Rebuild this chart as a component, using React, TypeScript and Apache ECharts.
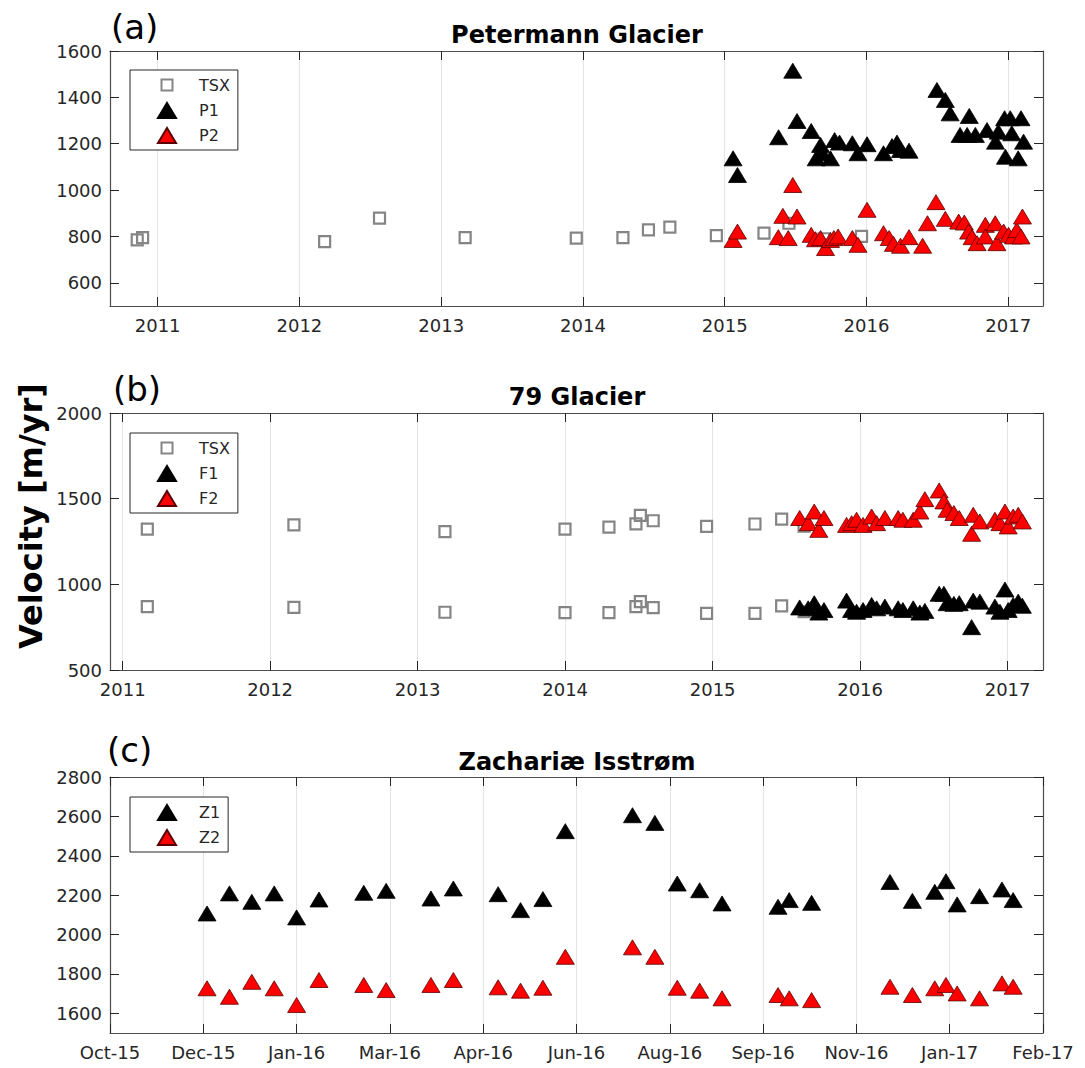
import React, { useEffect, useRef } from 'react';
import * as echarts from 'echarts';

// ---------- Panel (a) Petermann Glacier (x: decimal year) ----------
const petTsxYear = [2010.856, 2010.894, 2012.178, 2012.565, 2013.169, 2013.953, 2014.282, 2014.462, 2014.613, 2014.941, 2015.277, 2015.453, 2015.7, 2015.965];
const petTsxVel = [785, 795, 778, 879, 795, 793, 795, 828, 840, 804, 814, 857, 790, 800];

const petP1Year = [2015.059, 2015.09, 2015.38, 2015.48, 2015.51, 2015.61, 2015.645, 2015.676, 2015.69, 2015.746, 2015.775, 2015.81, 2015.9, 2015.94, 2016.004, 2016.12, 2016.18, 2016.215, 2016.24, 2016.3, 2016.497, 2016.556, 2016.59, 2016.66, 2016.71, 2016.725, 2016.768, 2016.85, 2016.91, 2016.93, 2016.974, 2016.98, 2017.014, 2017.025, 2017.07, 2017.09, 2017.108];
const petP1Vel = [1137, 1065, 1228, 1515, 1298, 1255, 1137, 1195, 1159, 1137, 1216, 1205, 1202, 1159, 1198, 1159, 1190, 1205, 1173, 1170, 1432, 1389, 1331, 1238, 1238, 1320, 1238, 1259, 1209, 1252, 1310, 1144, 1310, 1245, 1137, 1310, 1209];

const petP2Year = [2015.059, 2015.09, 2015.378, 2015.41, 2015.448, 2015.48, 2015.51, 2015.61, 2015.64, 2015.676, 2015.711, 2015.746, 2015.77, 2015.8, 2015.9, 2015.94, 2016.004, 2016.12, 2016.16, 2016.19, 2016.24, 2016.3, 2016.396, 2016.43, 2016.49, 2016.556, 2016.65, 2016.69, 2016.72, 2016.745, 2016.78, 2016.838, 2016.838, 2016.908, 2016.92, 2016.967, 2017.002, 2017.037, 2017.06, 2017.09, 2017.1];
const petP2Vel = [785, 821, 797, 889, 793, 1022, 886, 807, 788, 793, 750, 785, 793, 800, 793, 764, 915, 814, 793, 768, 760, 797, 760, 857, 948, 876, 864, 860, 821, 797, 771, 850, 800, 857, 771, 821, 807, 800, 828, 800, 886];

// ---------- Panel (b) 79 Glacier (x: decimal year) ----------
const g79TsxYear = [2011.167, 2011.167, 2012.161, 2012.161, 2013.185, 2013.185, 2013.999, 2013.999, 2014.297, 2014.297, 2014.48, 2014.48, 2014.51, 2014.51, 2014.597, 2014.597, 2014.959, 2014.959, 2015.287, 2015.287, 2015.468, 2015.468, 2015.62, 2015.62];
const g79TsxVel = [1322, 870, 1347, 866, 1308, 837, 1322, 835, 1334, 835, 1353, 870, 1402, 899, 1371, 864, 1338, 831, 1352, 831, 1381, 874, 1340, 840];

const g79Year = [2015.59, 2015.648, 2015.689, 2015.72, 2015.755, 2015.908, 2015.942, 2015.976, 2016.02, 2016.078, 2016.112, 2016.168, 2016.258, 2016.29, 2016.36, 2016.405, 2016.439, 2016.536, 2016.568, 2016.59, 2016.636, 2016.672, 2016.756, 2016.767, 2016.812, 2016.914, 2016.948, 2016.982, 2017.004, 2017.038, 2017.072, 2017.1];
const g79F1Vel = [865, 860, 890, 835, 850, 905, 850, 840, 850, 880, 860, 870, 860, 850, 860, 835, 845, 945, 945, 890, 886, 890, 750, 905, 899, 870, 840, 970, 850, 880, 899, 875];
const g79F2Vel = [1387, 1357, 1425, 1318, 1387, 1347, 1357, 1377, 1347, 1396, 1357, 1387, 1387, 1377, 1377, 1425, 1497, 1548, 1484, 1435, 1416, 1387, 1295, 1406, 1367, 1377, 1357, 1425, 1338, 1396, 1406, 1367];

// ---------- Panel (c) Zachariæ Isstrøm (x: date) ----------
const zDates = ['2015-12-04', '2015-12-16', '2015-12-28', '2016-01-09', '2016-01-21', '2016-02-02', '2016-02-26', '2016-03-09', '2016-04-02', '2016-04-14', '2016-05-08', '2016-05-20', '2016-06-01', '2016-06-13', '2016-07-19', '2016-07-31', '2016-08-12', '2016-08-24', '2016-09-05', '2016-10-05', '2016-10-11', '2016-10-23', '2016-12-04', '2016-12-16', '2016-12-28', '2017-01-03', '2017-01-09', '2017-01-21', '2017-02-02', '2017-02-08'];
const zZ1Vel = [2107, 2209, 2166, 2209, 2087, 2178, 2212, 2222, 2183, 2234, 2205, 2124, 2180, 2525, 2606, 2567, 2259, 2225, 2158, 2141, 2175, 2161, 2267, 2171, 2217, 2271, 2153, 2195, 2229, 2175];
const zZ2Vel = [1727, 1684, 1760, 1727, 1642, 1769, 1744, 1718, 1744, 1769, 1732, 1715, 1730, 1887, 1935, 1887, 1730, 1715, 1676, 1693, 1676, 1667, 1735, 1693, 1727, 1744, 1701, 1676, 1752, 1735];

// Tick labels
const yearTicks = [2011, 2012, 2013, 2014, 2015, 2016, 2017];
const petYTicks = [600, 800, 1000, 1200, 1400, 1600];
const zYTicks = [1600, 1800, 2000, 2200, 2400, 2600, 2800];
const zXStart = '2015-10-13';
const zXEnd = '2017-02-24';
const MONTHS = ['Jan', 'Feb', 'Mar', 'Apr', 'May', 'Jun', 'Jul', 'Aug', 'Sep', 'Oct', 'Nov', 'Dec'];

const DAY0 = 719529; // day number of 1970-01-01
function dn(s: string): number {
  const [y, m, d] = s.split('-').map(Number);
  return Date.UTC(y, m - 1, d) / 86400000 + DAY0;
}
function fmtMon(v: number): string {
  const dt = new Date(Math.round(v - DAY0) * 86400000);
  return MONTHS[dt.getUTCMonth()] + '-' + String(dt.getUTCFullYear() % 100).padStart(2, '0');
}
const zip = (a: number[], b: number[]) => a.map((x, i) => [x, b[i]]);

const FONT = 'DejaVu Sans';
const AX = '#262626';
const FRAME = '#4d4d4d';
const GRIDC = '#e4e4e4';

const TRI = [18, 15];
const TRI_ICON = 'path://M9,0 L18,15 L0,15 Z';
const SQ_ICON = 'path://M0,0 M18,15 M3.5,1.5 L14.5,1.5 L14.5,12.5 L3.5,12.5 Z';
const blackStyle = { color: '#000000', borderColor: '#000000', borderWidth: 0.8, opacity: 1 };
const redStyle = { color: '#ff0000', borderColor: '#5a0000', borderWidth: 0.8, opacity: 1 };
const tsxStyle = { color: 'rgba(0,0,0,0)', borderColor: '#858585', borderWidth: 2.2, opacity: 1 };

const num = (v: number) => String(Math.round(v));

function xBottom(gi: number, min: number, max: number, label: any, tick: any, interval?: number) {
  return {
    type: 'value', gridIndex: gi, position: 'bottom', min, max, interval,
    axisLine: { show: true, onZero: false, lineStyle: { color: FRAME, width: 1.2 } },
    axisTick: { show: true, inside: true, length: 9, lineStyle: { color: AX, width: 1 }, ...tick },
    axisLabel: { show: true, color: AX, fontSize: 18, fontFamily: FONT, margin: 10, ...label },
    splitLine: { show: true, lineStyle: { color: GRIDC, width: 1 } },
  };
}
function xTop(gi: number, min: number, max: number, tick: any, interval?: number) {
  return {
    type: 'value', gridIndex: gi, position: 'top', min, max, interval,
    axisLine: { show: true, onZero: false, lineStyle: { color: FRAME, width: 1.2 } },
    axisTick: { show: true, inside: true, length: 9, lineStyle: { color: AX, width: 1 }, ...tick },
    axisLabel: { show: false },
    splitLine: { show: false },
  };
}
function yAx(gi: number, pos: string, min: number, max: number, tick: any, label: any, interval?: number) {
  return {
    type: 'value', gridIndex: gi, position: pos, min, max, interval,
    axisLine: { show: true, onZero: false, lineStyle: { color: FRAME, width: 1.2 } },
    axisTick: { show: true, inside: true, length: 9, lineStyle: { color: AX, width: 1 }, ...tick },
    axisLabel: pos === 'left'
      ? { show: true, color: AX, fontSize: 18, fontFamily: FONT, margin: 8, formatter: num, ...label }
      : { show: false },
    splitLine: { show: false },
  };
}

function legend(top: number, items: { name: string; icon: string }[]) {
  return {
    orient: 'vertical', left: 130, top, data: items,
    itemWidth: 18, itemHeight: 15, itemGap: 8,
    symbolKeepAspect: true,
    padding: [7, 8, 6, 27],
    borderColor: AX, borderWidth: 1, backgroundColor: '#ffffff',
    textStyle: { fontFamily: FONT, fontSize: 16, color: AX, padding: [0, 0, 0, 18] },
    selectedMode: false,
  };
}

function scatter(name: string, data: number[][], xi: number, yi: number, symbol: string, size: any, style: any, z: number) {
  return { type: 'scatter', name, data, xAxisIndex: xi, yAxisIndex: yi, symbol, symbolSize: size, itemStyle: style, z, silent: true };
}

function label(text: string, x: number, y: number, size: number, weight: string, align: string, rotation = 0) {
  return {
    type: 'text', x, y, rotation,
    style: { text, fontSize: size, fontWeight: weight, fontFamily: FONT, fill: '#000000', textAlign: align, textVerticalAlign: 'middle' },
  };
}

export default function App() {
  const ref = useRef<HTMLDivElement>(null);
  useEffect(() => {
    if (!ref.current) return;
    const chart = echarts.init(ref.current, null, { renderer: 'svg' });
    const yearLabel = { customValues: yearTicks, formatter: num };
    const yearTick = { customValues: yearTicks };
    const zMin = dn(zXStart);
    const zMax = dn(zXEnd);
    const option: any = {
      animation: false,
      backgroundColor: '#ffffff',
      textStyle: { fontFamily: FONT },
      grid: [
        { left: 110, top: 51, width: 933, height: 255 },
        { left: 110, top: 413, width: 933, height: 257 },
        { left: 110, top: 777, width: 933, height: 256 },
      ],
      xAxis: [
        xBottom(0, 2010.664, 2017.245, yearLabel, yearTick),
        xTop(0, 2010.664, 2017.245, yearTick),
        xBottom(1, 2010.914, 2017.24, yearLabel, yearTick),
        xTop(1, 2010.914, 2017.24, yearTick),
        xBottom(2, zMin, zMax, { formatter: (v: number) => fmtMon(v) }, {}, 50),
        xTop(2, zMin, zMax, {}, 50),
      ],
      yAxis: [
        yAx(0, 'left', 500, 1600, { customValues: petYTicks }, { customValues: petYTicks }),
        yAx(0, 'right', 500, 1600, { customValues: petYTicks }, {}),
        yAx(1, 'left', 500, 2000, {}, {}, 500),
        yAx(1, 'right', 500, 2000, {}, {}, 500),
        yAx(2, 'left', 1500, 2800, { customValues: zYTicks }, { customValues: zYTicks }),
        yAx(2, 'right', 1500, 2800, { customValues: zYTicks }, {}),
      ],
      legend: [
        legend(70, [{ name: 'TSX', icon: SQ_ICON }, { name: 'P1', icon: TRI_ICON }, { name: 'P2', icon: TRI_ICON }]),
        legend(433, [{ name: 'TSX', icon: SQ_ICON }, { name: 'F1', icon: TRI_ICON }, { name: 'F2', icon: TRI_ICON }]),
        legend(797, [{ name: 'Z1', icon: TRI_ICON }, { name: 'Z2', icon: TRI_ICON }]),
      ],
      series: [
        scatter('TSX', zip(petTsxYear, petTsxVel), 0, 0, 'rect', 11, tsxStyle, 2),
        scatter('P1', zip(petP1Year, petP1Vel), 0, 0, 'triangle', TRI, blackStyle, 3),
        scatter('P2', zip(petP2Year, petP2Vel), 0, 0, 'triangle', TRI, redStyle, 4),
        scatter('TSX', zip(g79TsxYear, g79TsxVel), 2, 2, 'rect', 11, tsxStyle, 2),
        scatter('F1', zip(g79Year, g79F1Vel), 2, 2, 'triangle', TRI, blackStyle, 3),
        scatter('F2', zip(g79Year, g79F2Vel), 2, 2, 'triangle', TRI, redStyle, 4),
        scatter('Z1', zip(zDates.map(dn), zZ1Vel), 4, 4, 'triangle', TRI, blackStyle, 3),
        scatter('Z2', zip(zDates.map(dn), zZ2Vel), 4, 4, 'triangle', TRI, redStyle, 4),
      ],
      graphic: [
        label('(a)', 111, 27, 34, 'normal', 'left'),
        label('Petermann Glacier', 577, 35, 24, 'bold', 'center'),
        label('(b)', 113, 389, 34, 'normal', 'left'),
        label('79 Glacier', 577, 397, 24, 'bold', 'center'),
        label('(c)', 107, 750, 34, 'normal', 'left'),
        label('Zachariæ Isstrøm', 577, 762, 24, 'bold', 'center'),
        label('Velocity [m/yr]', 31, 516, 32, 'bold', 'center', Math.PI / 2),
      ],
    };
    chart.setOption(option);
    return () => chart.dispose();
  }, []);
  return <div ref={ref} style={{ position: 'absolute', left: 0, top: 0, width: 1085, height: 1068 }} />;
}
